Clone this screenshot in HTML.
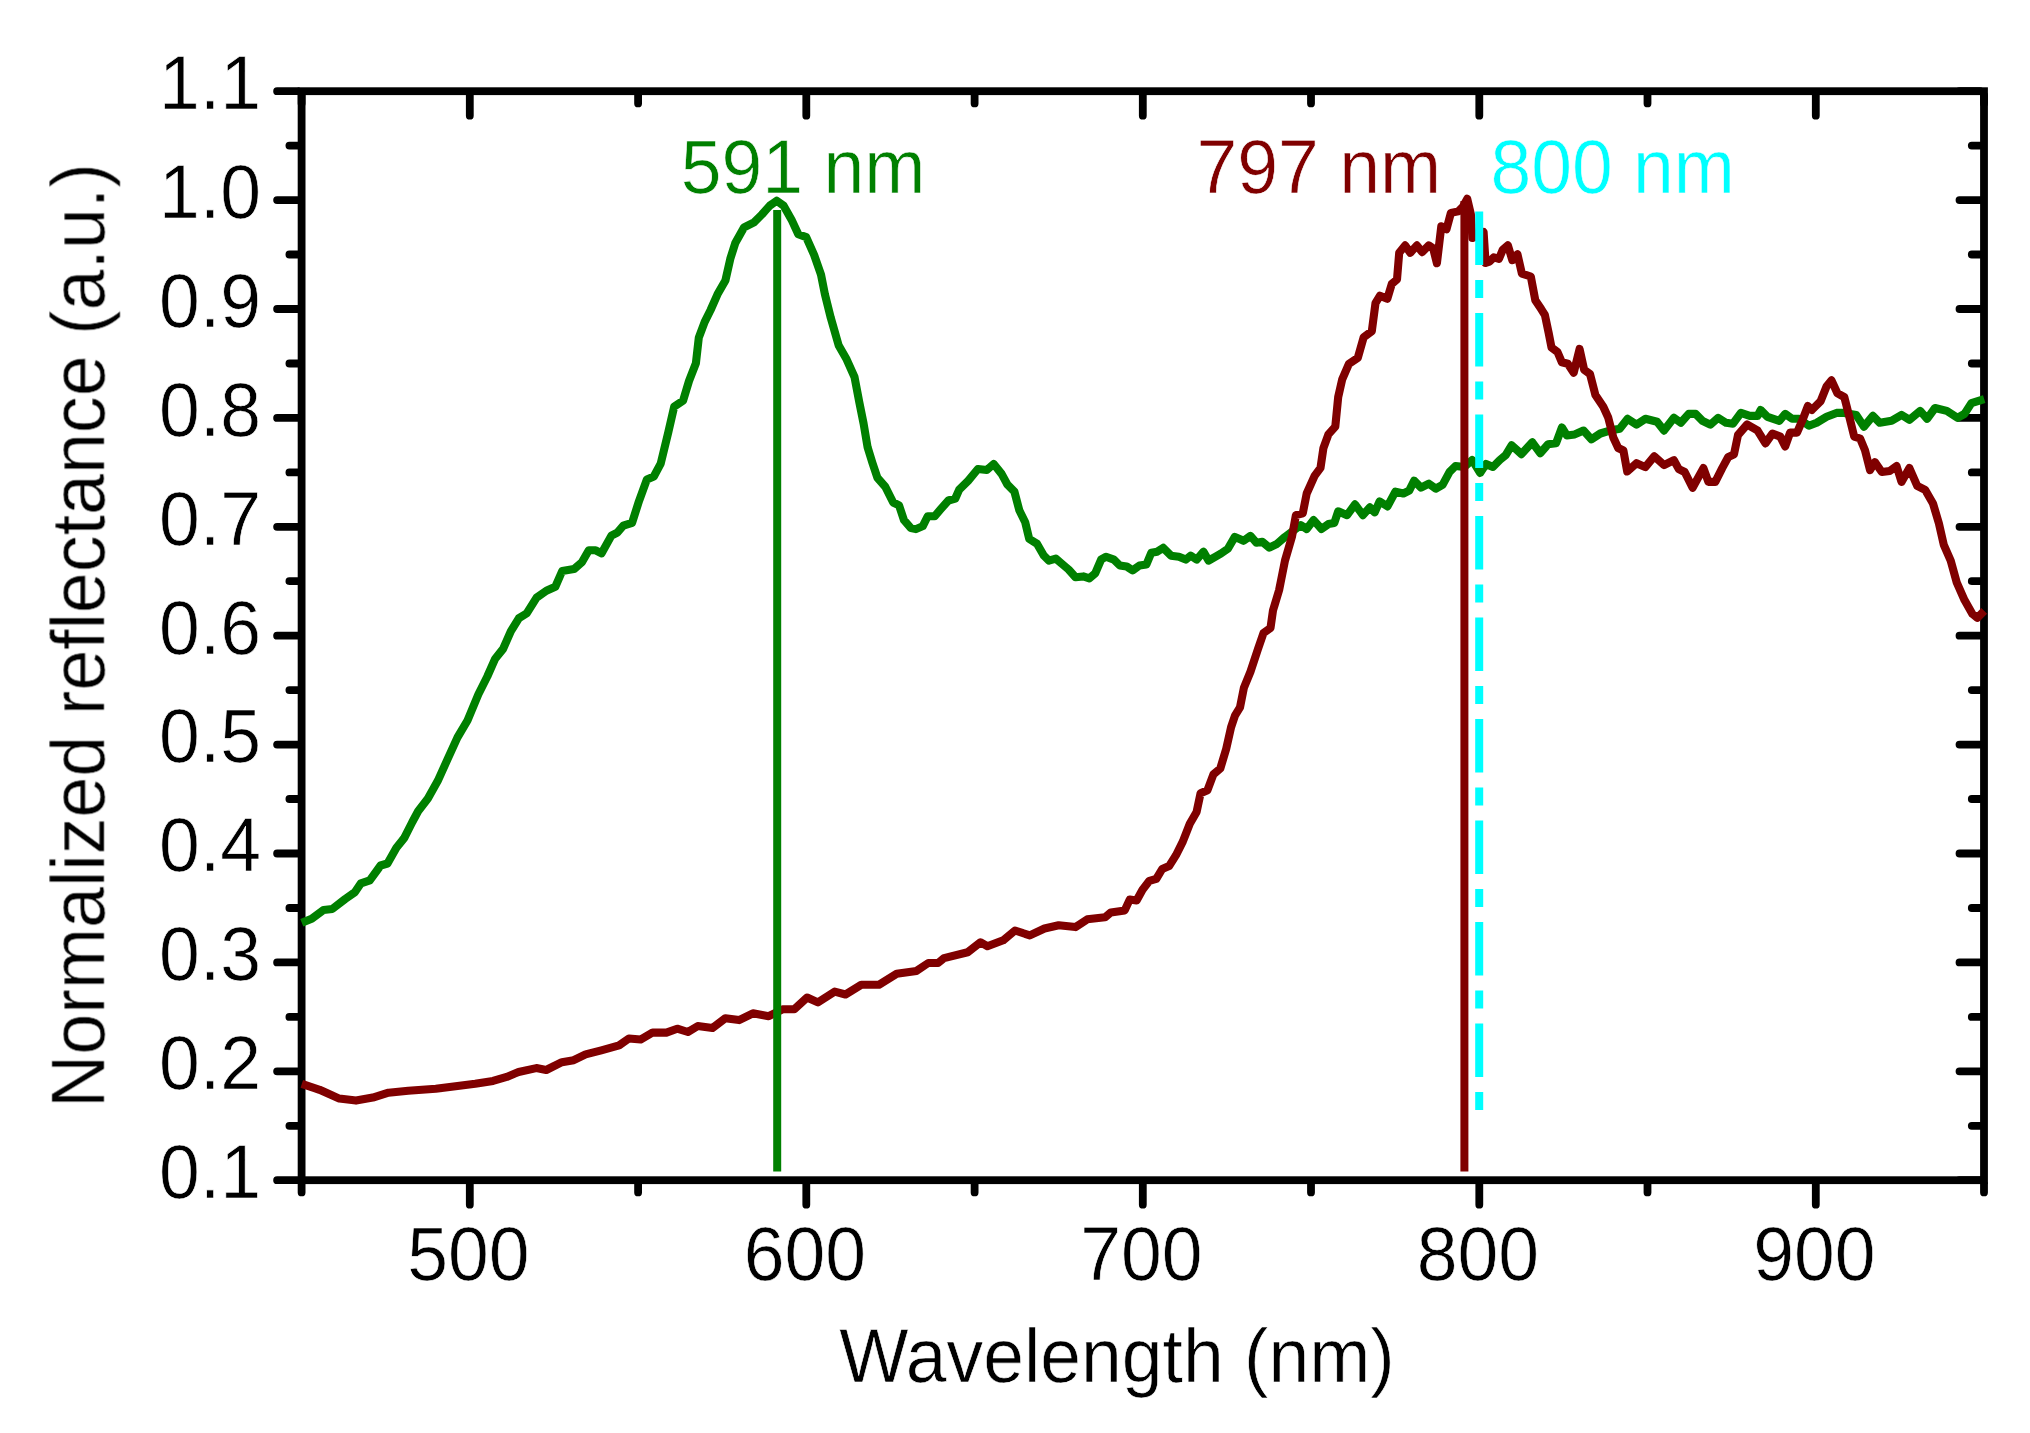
<!DOCTYPE html>
<html><head><meta charset="utf-8"><title>Normalized reflectance</title>
<style>html,body{margin:0;padding:0;background:#fff}svg{display:block}text{font-family:"Liberation Sans",sans-serif}</style></head>
<body>
<svg width="2030" height="1433" viewBox="0 0 2030 1433">
<rect width="2030" height="1433" fill="#fff"/>
<defs><filter id="soft" x="0" y="0" width="2030" height="1433" filterUnits="userSpaceOnUse"><feGaussianBlur stdDeviation="0.6"/></filter></defs>
<g filter="url(#soft)">
<g stroke="#000" stroke-width="7.8" fill="none">
<rect x="301.6" y="91.2" width="1682.4" height="1089.0" stroke-linejoin="miter"/>
<path stroke-linecap="round" d="M301.6 95.10000000000001 v8.299999999999999 M301.6 1184.1000000000001 v8.299999999999999 M469.8 95.10000000000001 v20.6 M469.8 1184.1000000000001 v20.6 M638.1 95.10000000000001 v8.299999999999999 M638.1 1184.1000000000001 v8.299999999999999 M806.3 95.10000000000001 v20.6 M806.3 1184.1000000000001 v20.6 M974.6 95.10000000000001 v8.299999999999999 M974.6 1184.1000000000001 v8.299999999999999 M1142.8 95.10000000000001 v20.6 M1142.8 1184.1000000000001 v20.6 M1311.0 95.10000000000001 v8.299999999999999 M1311.0 1184.1000000000001 v8.299999999999999 M1479.3 95.10000000000001 v20.6 M1479.3 1184.1000000000001 v20.6 M1647.5 95.10000000000001 v8.299999999999999 M1647.5 1184.1000000000001 v8.299999999999999 M1815.8 95.10000000000001 v20.6 M1815.8 1184.1000000000001 v20.6 M1984.0 95.10000000000001 v8.299999999999999 M1984.0 1184.1000000000001 v8.299999999999999 M297.70000000000005 1180.2 h-20.6 M1980.1 1180.2 h-20.6 M297.70000000000005 1125.8 h-8.299999999999999 M1980.1 1125.8 h-8.299999999999999 M297.70000000000005 1071.3 h-20.6 M1980.1 1071.3 h-20.6 M297.70000000000005 1016.9 h-8.299999999999999 M1980.1 1016.9 h-8.299999999999999 M297.70000000000005 962.4 h-20.6 M1980.1 962.4 h-20.6 M297.70000000000005 908.0 h-8.299999999999999 M1980.1 908.0 h-8.299999999999999 M297.70000000000005 853.5 h-20.6 M1980.1 853.5 h-20.6 M297.70000000000005 799.0 h-8.299999999999999 M1980.1 799.0 h-8.299999999999999 M297.70000000000005 744.6 h-20.6 M1980.1 744.6 h-20.6 M297.70000000000005 690.1 h-8.299999999999999 M1980.1 690.1 h-8.299999999999999 M297.70000000000005 635.7 h-20.6 M1980.1 635.7 h-20.6 M297.70000000000005 581.2 h-8.299999999999999 M1980.1 581.2 h-8.299999999999999 M297.70000000000005 526.8 h-20.6 M1980.1 526.8 h-20.6 M297.70000000000005 472.4 h-8.299999999999999 M1980.1 472.4 h-8.299999999999999 M297.70000000000005 417.9 h-20.6 M1980.1 417.9 h-20.6 M297.70000000000005 363.5 h-8.299999999999999 M1980.1 363.5 h-8.299999999999999 M297.70000000000005 309.0 h-20.6 M1980.1 309.0 h-20.6 M297.70000000000005 254.5 h-8.299999999999999 M1980.1 254.5 h-8.299999999999999 M297.70000000000005 200.1 h-20.6 M1980.1 200.1 h-20.6 M297.70000000000005 145.6 h-8.299999999999999 M1980.1 145.6 h-8.299999999999999 M297.70000000000005 91.2 h-20.6 M1980.1 91.2 h-20.6"/>
</g>
<g fill="none" stroke-linejoin="round" stroke-linecap="butt">
<path d="M301.8 922.7 L311.7 918.7 L323.5 909.9 L332.4 908.9 L345.2 899.0 L355.0 892.1 L360.9 883.3 L369.8 880.3 L380.6 865.5 L387.5 863.5 L396.4 847.8 L404.3 837.9 L412.2 822.2 L418.1 811.3 L427.9 798.5 L437.8 780.8 L447.6 759.1 L457.5 737.4 L467.5 720.5 L478.4 694.2 L487.3 676.5 L495.2 658.7 L503.1 648.9 L510.9 631.1 L518.8 618.3 L526.7 613.4 L536.6 597.6 L546.4 590.7 L555.3 586.8 L562.2 571.0 L574.0 569.1 L581.9 562.2 L588.8 550.3 L595.7 550.3 L601.6 553.3 L611.4 535.6 L617.3 532.6 L623.3 525.7 L632.1 522.8 L639.0 501.1 L646.9 479.4 L653.8 476.5 L660.7 463.6 L668.3 432.2 L674.2 406.6 L683.1 400.7 L689.0 381.0 L695.9 363.3 L698.8 337.6 L704.7 321.9 L710.6 310.0 L717.5 294.3 L725.4 280.5 L730.3 258.8 L735.3 243.0 L744.1 227.3 L754.0 222.4 L761.9 214.5 L769.8 205.6 L776.7 200.7 L783.5 205.6 L791.4 219.4 L798.3 234.2 L806.2 237.1 L814.1 254.9 L821.0 274.6 L824.9 294.3 L830.8 317.9 L838.7 345.5 L846.6 359.3 L854.5 377.0 L859.4 402.7 L863.6 423.6 L867.6 447.3 L872.5 463.1 L877.4 477.8 L885.3 486.7 L893.2 502.5 L899.1 505.4 L904.0 520.2 L910.9 528.1 L915.9 529.1 L922.8 526.1 L927.7 516.3 L934.6 516.3 L940.5 509.4 L948.4 500.5 L955.3 498.5 L959.2 489.7 L968.1 480.8 L977.9 469.0 L986.8 470.0 L993.7 464.0 L1001.6 473.9 L1007.5 484.7 L1014.4 491.6 L1019.3 510.3 L1025.2 522.2 L1029.2 538.9 L1037.0 543.8 L1043.9 555.7 L1048.9 560.6 L1055.8 558.6 L1062.7 564.5 L1068.6 569.5 L1075.5 577.3 L1083.3 576.4 L1089.3 578.3 L1095.2 573.4 L1101.1 559.6 L1106.0 556.7 L1113.9 559.6 L1119.8 565.5 L1126.7 566.5 L1132.6 570.4 L1139.5 565.5 L1146.4 564.5 L1151.3 552.7 L1157.2 551.7 L1163.2 547.8 L1171.0 555.7 L1178.9 556.7 L1185.8 559.6 L1190.7 555.7 L1196.7 559.6 L1203.5 551.7 L1208.5 560.6 L1215.4 556.7 L1221.0 553.5 L1227.9 548.7 L1234.8 536.9 L1243.6 540.8 L1250.5 535.9 L1256.5 542.8 L1262.4 541.8 L1269.3 547.7 L1277.1 543.8 L1285.0 536.9 L1292.9 531.0 L1300.8 525.1 L1306.7 529.0 L1313.6 520.1 L1321.5 529.0 L1328.4 524.1 L1334.3 523.1 L1338.2 511.3 L1347.1 515.2 L1355.0 504.4 L1362.9 515.2 L1369.8 507.3 L1374.7 512.3 L1379.6 501.4 L1387.5 506.4 L1395.4 491.6 L1403.3 493.5 L1409.2 490.6 L1414.1 480.7 L1421.0 487.6 L1428.9 483.7 L1435.8 488.6 L1442.7 484.7 L1449.6 471.9 L1455.5 466.0 L1464.3 467.0 L1472.2 460.0 L1480.1 472.9 L1486.0 464.0 L1492.9 467.0 L1499.8 460.0 L1505.7 455.1 L1511.6 445.3 L1521.5 454.1 L1532.3 442.3 L1540.2 453.2 L1548.1 444.3 L1556.0 443.3 L1561.9 427.5 L1566.8 435.4 L1574.7 434.4 L1583.5 430.5 L1591.4 439.4 L1600.3 433.5 L1609.9 430.6 L1619.7 428.7 L1627.6 418.8 L1636.5 424.7 L1645.3 418.8 L1657.1 421.8 L1664.0 430.6 L1673.9 417.8 L1680.8 422.8 L1688.7 413.9 L1695.6 413.9 L1702.5 420.8 L1710.3 424.7 L1718.2 417.8 L1726.1 422.8 L1733.0 423.7 L1740.9 412.9 L1749.8 415.9 L1757.6 415.9 L1760.6 410.0 L1767.5 416.8 L1779.3 420.8 L1785.2 413.9 L1792.1 418.8 L1799.0 418.8 L1808.9 425.7 L1816.7 422.8 L1826.6 416.8 L1836.5 412.9 L1844.3 412.9 L1856.2 414.9 L1864.0 426.7 L1872.9 415.9 L1879.8 422.8 L1891.6 420.8 L1901.5 414.9 L1909.4 419.8 L1920.2 410.9 L1927.1 418.8 L1935.0 408.0 L1946.8 410.9 L1957.6 417.8 L1964.5 413.9 L1971.4 403.1 L1984.2 399.1" stroke="#008000" stroke-width="8.1"/>
<path d="M301.8 1083.8 L319.6 1089.8 L339.3 1098.6 L356.0 1100.6 L372.8 1097.6 L388.5 1092.7 L408.2 1090.7 L435.8 1088.8 L459.5 1085.8 L475.2 1083.8 L493.0 1080.9 L506.7 1076.9 L518.6 1072.0 L536.3 1068.1 L546.2 1070.0 L561.9 1062.2 L573.7 1060.2 L585.6 1054.3 L601.3 1050.3 L619.1 1045.4 L628.9 1038.5 L640.7 1039.5 L652.6 1032.6 L666.4 1032.6 L677.2 1028.7 L687.9 1032.0 L697.7 1026.1 L712.5 1028.0 L725.3 1018.2 L739.1 1020.1 L752.9 1013.3 L768.7 1016.2 L782.5 1009.3 L794.3 1009.3 L807.1 997.5 L817.9 1002.4 L834.7 991.6 L845.5 994.5 L861.3 984.7 L879.0 984.7 L896.7 973.8 L916.5 970.9 L928.3 963.0 L938.1 963.0 L944.0 958.1 L967.7 952.2 L980.5 942.3 L987.4 946.3 L1003.2 940.3 L1015.0 930.5 L1029.8 935.4 L1044.5 928.5 L1058.7 925.2 L1075.5 927.1 L1087.3 919.3 L1105.0 917.3 L1110.9 912.4 L1124.7 910.4 L1129.7 899.6 L1136.6 900.5 L1142.5 889.7 L1149.4 880.8 L1156.3 878.9 L1162.2 869.0 L1169.1 866.1 L1176.0 855.2 L1182.9 841.4 L1189.8 823.7 L1196.6 811.9 L1200.6 793.2 L1207.5 790.2 L1213.4 774.4 L1220.3 768.5 L1226.2 748.8 L1231.1 727.1 L1235.1 715.3 L1240.0 707.4 L1243.9 687.7 L1250.4 671.9 L1257.9 649.3 L1263.5 633.0 L1270.5 627.9 L1273.0 610.4 L1279.1 590.1 L1285.0 560.5 L1291.9 536.9 L1295.9 515.2 L1302.8 513.3 L1306.7 493.5 L1314.6 475.8 L1320.5 467.9 L1323.4 448.2 L1328.4 434.4 L1335.3 426.6 L1338.2 397.0 L1342.2 379.3 L1348.9 363.8 L1357.8 357.9 L1363.7 337.2 L1371.8 331.2 L1375.5 303.1 L1379.9 295.7 L1387.3 298.7 L1391.8 283.9 L1397.0 279.5 L1399.2 252.8 L1405.1 245.4 L1410.3 252.8 L1416.9 245.4 L1422.1 252.1 L1428.8 245.4 L1433.2 248.4 L1436.9 263.2 L1441.3 226.2 L1446.5 229.2 L1450.9 212.9 L1458.3 211.4 L1462.8 207.0 L1467.2 198.8 L1470.9 214.4 L1472.4 238.0 L1477.0 236.0 L1483.6 232.0 L1485.6 263.0 L1489.4 261.7 L1493.8 257.3 L1499.0 258.8 L1502.7 249.9 L1507.9 245.4 L1512.3 260.2 L1517.5 254.3 L1521.9 273.6 L1530.8 276.5 L1535.3 300.2 L1541.2 309.1 L1544.9 315.0 L1548.6 332.7 L1551.5 347.5 L1557.5 352.0 L1561.9 362.3 L1567.8 363.8 L1573.7 372.7 L1579.6 349.0 L1584.1 369.7 L1590.0 374.1 L1595.4 395.0 L1603.3 406.8 L1608.2 417.5 L1613.3 437.5 L1618.2 448.0 L1623.4 450.5 L1627.2 471.5 L1636.5 463.2 L1645.3 467.1 L1654.2 456.3 L1664.0 465.1 L1673.9 460.2 L1678.8 469.1 L1684.7 472.0 L1692.6 487.8 L1703.4 468.1 L1708.4 481.9 L1715.3 481.9 L1722.2 468.1 L1728.1 457.2 L1734.0 454.3 L1738.0 435.0 L1747.1 424.5 L1757.6 430.6 L1765.5 443.4 L1772.4 433.6 L1780.3 436.6 L1785.2 446.4 L1790.1 432.6 L1797.0 432.6 L1803.0 418.8 L1807.9 406.0 L1811.8 410.0 L1820.7 401.1 L1826.6 386.3 L1831.5 380.4 L1837.4 393.2 L1844.3 397.1 L1849.3 416.8 L1854.2 436.6 L1860.1 438.5 L1865.0 450.3 L1870.0 470.0 L1874.9 462.2 L1881.8 472.0 L1889.7 471.0 L1896.6 466.1 L1901.5 481.9 L1909.4 468.1 L1917.2 485.8 L1925.1 489.8 L1933.0 503.5 L1938.9 523.3 L1943.8 544.9 L1950.7 560.7 L1956.7 582.4 L1964.5 600.1 L1972.4 613.9 L1977.3 617.8 L1984.2 610.9" stroke="#800000" stroke-width="8.1"/>
<path d="M777.2 210 V1171.5" stroke="#008000" stroke-width="8"/>
<path d="M1464.4 201 V1171.5" stroke="#800000" stroke-width="8"/>
<path d="M1479.2 211.4 V1111" stroke="#00ffff" stroke-width="8" stroke-dasharray="53.5 15 18 15"/>
</g>
<g font-size="73.3" fill="#000">
<text transform="translate(468.3,1279.5) scale(1.0,1.04)" text-anchor="middle" stroke="#fff" stroke-width="0.6">500</text>
<text transform="translate(804.8,1279.5) scale(1.0,1.04)" text-anchor="middle" stroke="#fff" stroke-width="0.6">600</text>
<text transform="translate(1141.3,1279.5) scale(1.0,1.04)" text-anchor="middle" stroke="#fff" stroke-width="0.6">700</text>
<text transform="translate(1477.8,1279.5) scale(1.0,1.04)" text-anchor="middle" stroke="#fff" stroke-width="0.6">800</text>
<text transform="translate(1814.3,1279.5) scale(1.0,1.04)" text-anchor="middle" stroke="#fff" stroke-width="0.6">900</text>
<text transform="translate(261,1198.0) scale(1.0,1.04)" text-anchor="end" stroke="#fff" stroke-width="0.6">0.1</text>
<text transform="translate(261,1089.1) scale(1.0,1.04)" text-anchor="end" stroke="#fff" stroke-width="0.6">0.2</text>
<text transform="translate(261,980.2) scale(1.0,1.04)" text-anchor="end" stroke="#fff" stroke-width="0.6">0.3</text>
<text transform="translate(261,871.3) scale(1.0,1.04)" text-anchor="end" stroke="#fff" stroke-width="0.6">0.4</text>
<text transform="translate(261,762.4) scale(1.0,1.04)" text-anchor="end" stroke="#fff" stroke-width="0.6">0.5</text>
<text transform="translate(261,653.5) scale(1.0,1.04)" text-anchor="end" stroke="#fff" stroke-width="0.6">0.6</text>
<text transform="translate(261,544.6) scale(1.0,1.04)" text-anchor="end" stroke="#fff" stroke-width="0.6">0.7</text>
<text transform="translate(261,435.7) scale(1.0,1.04)" text-anchor="end" stroke="#fff" stroke-width="0.6">0.8</text>
<text transform="translate(261,326.8) scale(1.0,1.04)" text-anchor="end" stroke="#fff" stroke-width="0.6">0.9</text>
<text transform="translate(261,217.9) scale(1.0,1.04)" text-anchor="end" stroke="#fff" stroke-width="0.6">1.0</text>
<text transform="translate(261,109.0) scale(1.0,1.04)" text-anchor="end" stroke="#fff" stroke-width="0.6">1.1</text>
<text transform="translate(1117,1382.3) scale(1.0,1.04)" text-anchor="middle" stroke="#fff" stroke-width="0.6">Wavelength (nm)</text>
<text transform="translate(104,635.5) rotate(-90) scale(1.004,1.04)" text-anchor="middle" stroke="#fff" stroke-width="0.6">Normalized reflectance (a.u.)</text>
<text transform="translate(803,192.8) scale(1.0,1.04)" text-anchor="middle" fill="#008000" stroke="#fff" stroke-width="0.6">591 nm</text>
<text transform="translate(1318.8,192.6) scale(1.0,1.04)" text-anchor="middle" fill="#800000" stroke="#fff" stroke-width="0.6">797 nm</text>
<text transform="translate(1612.6,192.6) scale(1.0,1.04)" text-anchor="middle" fill="#00ffff" stroke="#fff" stroke-width="0.6">800 nm</text>
</g>
</g>
</svg>
</body></html>
